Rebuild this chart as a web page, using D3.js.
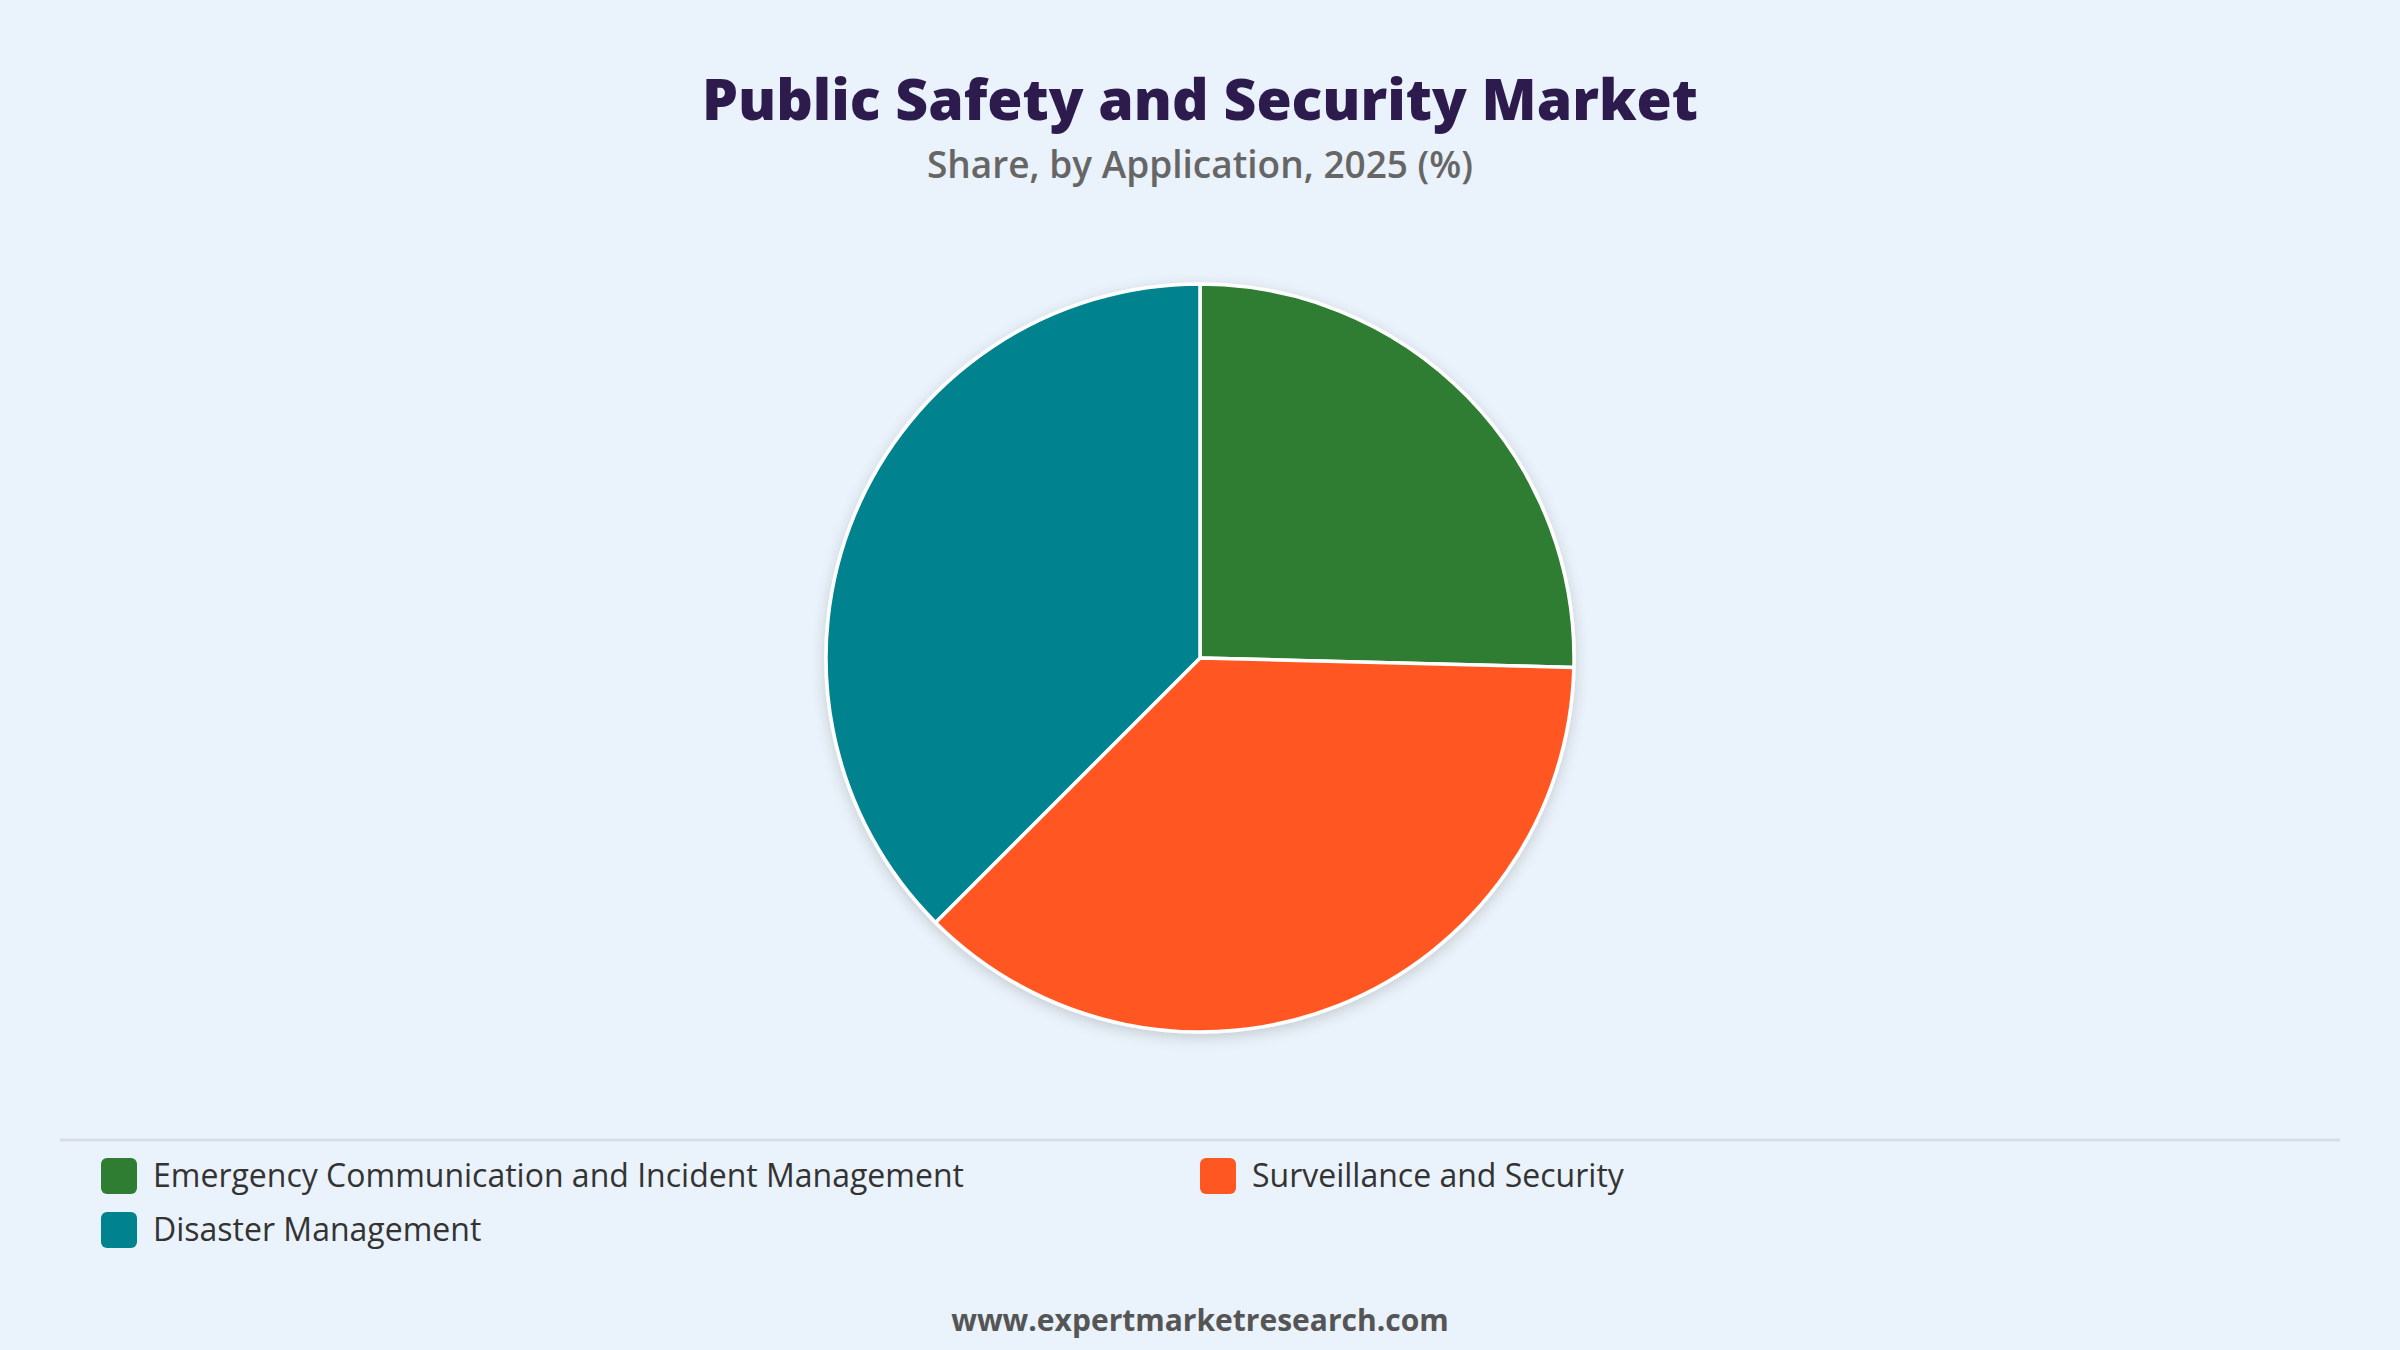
<!DOCTYPE html>
<html>
<head>
<meta charset="utf-8">
<script src="https://cdn.jsdelivr.net/npm/d3@7"></script>
<style>
  html, body { margin: 0; padding: 0; background: #eaf2fb; }
  svg { display: block; }
</style>
</head>
<body>
<svg id="chart"></svg>
<script>
const width = 2400;
const height = 1350;

const title = "Public Safety and Security Market";
const subtitle = "Share, by Application, 2025 (%)";
const footer = "www.expertmarketresearch.com";

// share by application
const categories = [
    "Emergency Communication and Incident Management",
    "Surveillance and Security",
    "Disaster Management"
];
const shares = [25.4, 37.1, 37.5];
const colors = ["#2e7d32", "#ff5722", "#00838f"];

const center = [1200, 658];
const radius = 374;

const svg = d3.select("#chart")
    .attr("width", width)
    .attr("height", height)
    .attr("viewBox", `0 0 ${width} ${height}`);

svg.append("rect")
    .attr("width", width)
    .attr("height", height)
    .attr("fill", "#eaf2fb");

// soft shadow round the pie
const defs = svg.append("defs");
const shadow = defs.append("filter")
    .attr("id", "pieShadow")
    .attr("x", "-20%").attr("y", "-20%")
    .attr("width", "140%").attr("height", "140%");
shadow.append("feDropShadow")
    .attr("dx", 0).attr("dy", 4)
    .attr("stdDeviation", 7)
    .attr("flood-color", "#000")
    .attr("flood-opacity", 0.16);

svg.append("text")
    .attr("x", width / 2)
    .attr("y", 120)
    .attr("text-anchor", "middle")
    .style("font-family", "'Open Sans', sans-serif")
    .style("font-weight", 800)
    .style("font-size", "57px")
    .style("fill", "#2d1b4e")
    .text(title);

svg.append("text")
    .attr("x", width / 2)
    .attr("y", 178)
    .attr("text-anchor", "middle")
    .style("font-family", "'Open Sans', sans-serif")
    .style("font-weight", 600)
    .style("font-size", "37px")
    .style("fill", "#666")
    .text(subtitle);

const pieData = categories.map((c, i) => ({ name: c, value: shares[i], color: colors[i] }));

const pie = d3.pie()
    .value(d => d.value)
    .sort(null);

const arc = d3.arc()
    .innerRadius(0)
    .outerRadius(radius);

const pieGroup = svg.append("g")
    .attr("transform", `translate(${center[0]},${center[1]})`)
    .attr("filter", "url(#pieShadow)");

pieGroup.selectAll("path")
    .data(pie(pieData))
    .join("path")
    .attr("d", arc)
    .attr("fill", d => d.data.color)
    .attr("stroke", "#fff")
    .attr("stroke-width", 3.5)
    .attr("stroke-linejoin", "round");

// legend separator
svg.append("line")
    .attr("x1", 60).attr("x2", 2340)
    .attr("y1", 1140).attr("y2", 1140)
    .attr("stroke", "#d9dde3")
    .attr("stroke-width", 3);

const legendCols = [101, 1200];
const legendRows = [1158, 1212];
const legend = svg.append("g");

const items = legend.selectAll("g")
    .data(pieData)
    .join("g")
    .attr("transform", (d, i) => `translate(${legendCols[i % 2]},${legendRows[Math.floor(i / 2)]})`);

items.append("rect")
    .attr("width", 36)
    .attr("height", 36)
    .attr("rx", 6)
    .attr("fill", d => d.color);

items.append("text")
    .attr("x", 52)
    .attr("y", 29)
    .style("font-family", "'Open Sans', sans-serif")
    .style("font-size", "32px")
    .style("fill", "#333")
    .text(d => d.name);

svg.append("text")
    .attr("x", width / 2)
    .attr("y", 1331)
    .attr("text-anchor", "middle")
    .style("font-family", "'Open Sans', sans-serif")
    .style("font-weight", 700)
    .style("font-size", "30px")
    .style("fill", "#555")
    .text(footer);
</script>
</body>
</html>
